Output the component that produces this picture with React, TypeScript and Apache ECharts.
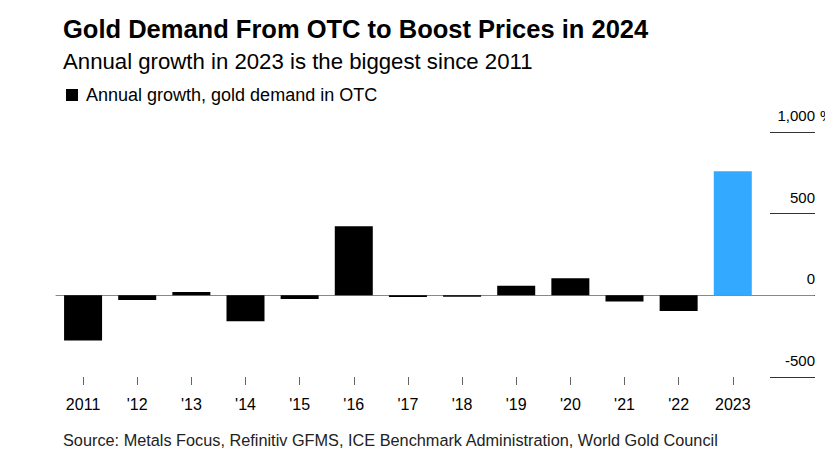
import React, { useEffect, useRef } from 'react';
import * as echarts from 'echarts';

const categories = ['2011', "'12", "'13", "'14", "'15", "'16", "'17", "'18", "'19", "'20", "'21", "'22", '2023'];
const growth = [-276, -28, 20, -158, -22, 423, -10, -8, 58, 105, -37, -96, 760];
const yMin = -500;
const yMax = 1000;
const yStep = 500;
const highlightYear = '2023';
const seriesName = 'Annual growth, gold demand in OTC';
const titleText = 'Gold Demand From OTC to Boost Prices in 2024';
const subtitleText = 'Annual growth in 2023 is the biggest since 2011';
const sourceText = 'Source: Metals Focus, Refinitiv GFMS, ICE Benchmark Administration, World Gold Council';

export default function App() {
  const ref = useRef<HTMLDivElement>(null);
  useEffect(() => {
    document.body.style.margin = '0';
    const chart = echarts.init(ref.current!, null, { renderer: 'svg' });
    const font = '"Liberation Sans", Arial, sans-serif';
    chart.setOption({
      animation: false,
      textStyle: { fontFamily: font },
      title: [
        {
          text: titleText,
          left: 58,
          top: 11,
          textStyle: { fontSize: 25.5, fontWeight: 'bold', color: '#000', fontFamily: font },
        },
        {
          text: subtitleText,
          left: 58,
          top: 45,
          textStyle: { fontSize: 22.2, fontWeight: 'normal', color: '#000', fontFamily: font },
        },
        {
          text: sourceText,
          left: 58,
          top: 427,
          textStyle: { fontSize: 16.3, fontWeight: 'normal', color: '#222', fontFamily: font },
        },
      ],
      legend: {
        left: 61,
        top: 81,
        icon: 'rect',
        itemWidth: 12,
        itemHeight: 12,
        textStyle: { fontSize: 18, color: '#000', padding: [0, 0, 0, 3], fontFamily: font },
        data: [seriesName],
      },
      grid: [
        { left: 56, right: 11, top: 132, bottom: 85 },
        { left: 770, right: 10, top: 132, bottom: 85 },
      ],
      xAxis: [
        {
          type: 'category',
          gridIndex: 0,
          data: categories,
          max: categories.length,
          axisLine: { onZero: true, lineStyle: { color: '#888', width: 1 } },
          axisTick: { show: false },
          axisLabel: { show: false },
        },
        {
          type: 'category',
          gridIndex: 0,
          data: categories,
          max: categories.length,
          position: 'bottom',
          axisLine: { show: false, onZero: false },
          axisTick: {
            show: true,
            alignWithLabel: true,
            length: 8,
            lineStyle: { color: '#666' },
            interval: (i: number) => i < categories.length,
          },
          axisLabel: {
            interval: 0,
            fontSize: 16,
            color: '#000',
            margin: 19,
            fontFamily: font,
            formatter: (v: any) => (v === undefined || v === null ? '' : String(v)),
          },
        },
        { type: 'value', gridIndex: 1, show: false },
      ],
      yAxis: [
        {
          type: 'value',
          gridIndex: 0,
          min: yMin,
          max: yMax,
          interval: yStep,
          position: 'right',
          axisLabel: { show: false },
          splitLine: { show: false },
          axisLine: { show: false },
          axisTick: { show: false },
        },
        {
          type: 'value',
          gridIndex: 1,
          min: yMin,
          max: yMax,
          interval: yStep,
          position: 'right',
          axisLine: { show: false },
          axisTick: { show: false },
          splitLine: { show: true, lineStyle: { color: '#333', width: 1 } },
          axisLabel: {
            inside: true,
            margin: 0,
            verticalAlign: 'bottom',
            padding: [0, 0, 9, 0],
            fontSize: 15,
            color: '#000',
            fontFamily: font,
            formatter: (v: number) => v.toLocaleString('en-US'),
          },
        },
      ],
      graphic: [
        {
          type: 'text',
          left: 820,
          top: 108,
          style: { text: '%', fontSize: 15, fill: '#000', fontFamily: font },
        },
      ],
      series: [
        {
          name: seriesName,
          type: 'bar',
          xAxisIndex: 0,
          yAxisIndex: 0,
          barWidth: 38,
          itemStyle: { color: '#000' },
          data: growth.map((v, i) => ({
            value: v,
            itemStyle: { color: categories[i] === highlightYear ? '#33aaff' : '#000' },
          })),
        },
      ],
    });
    return () => chart.dispose();
  }, []);
  return <div ref={ref} style={{ width: 825, height: 462 }} />;
}
